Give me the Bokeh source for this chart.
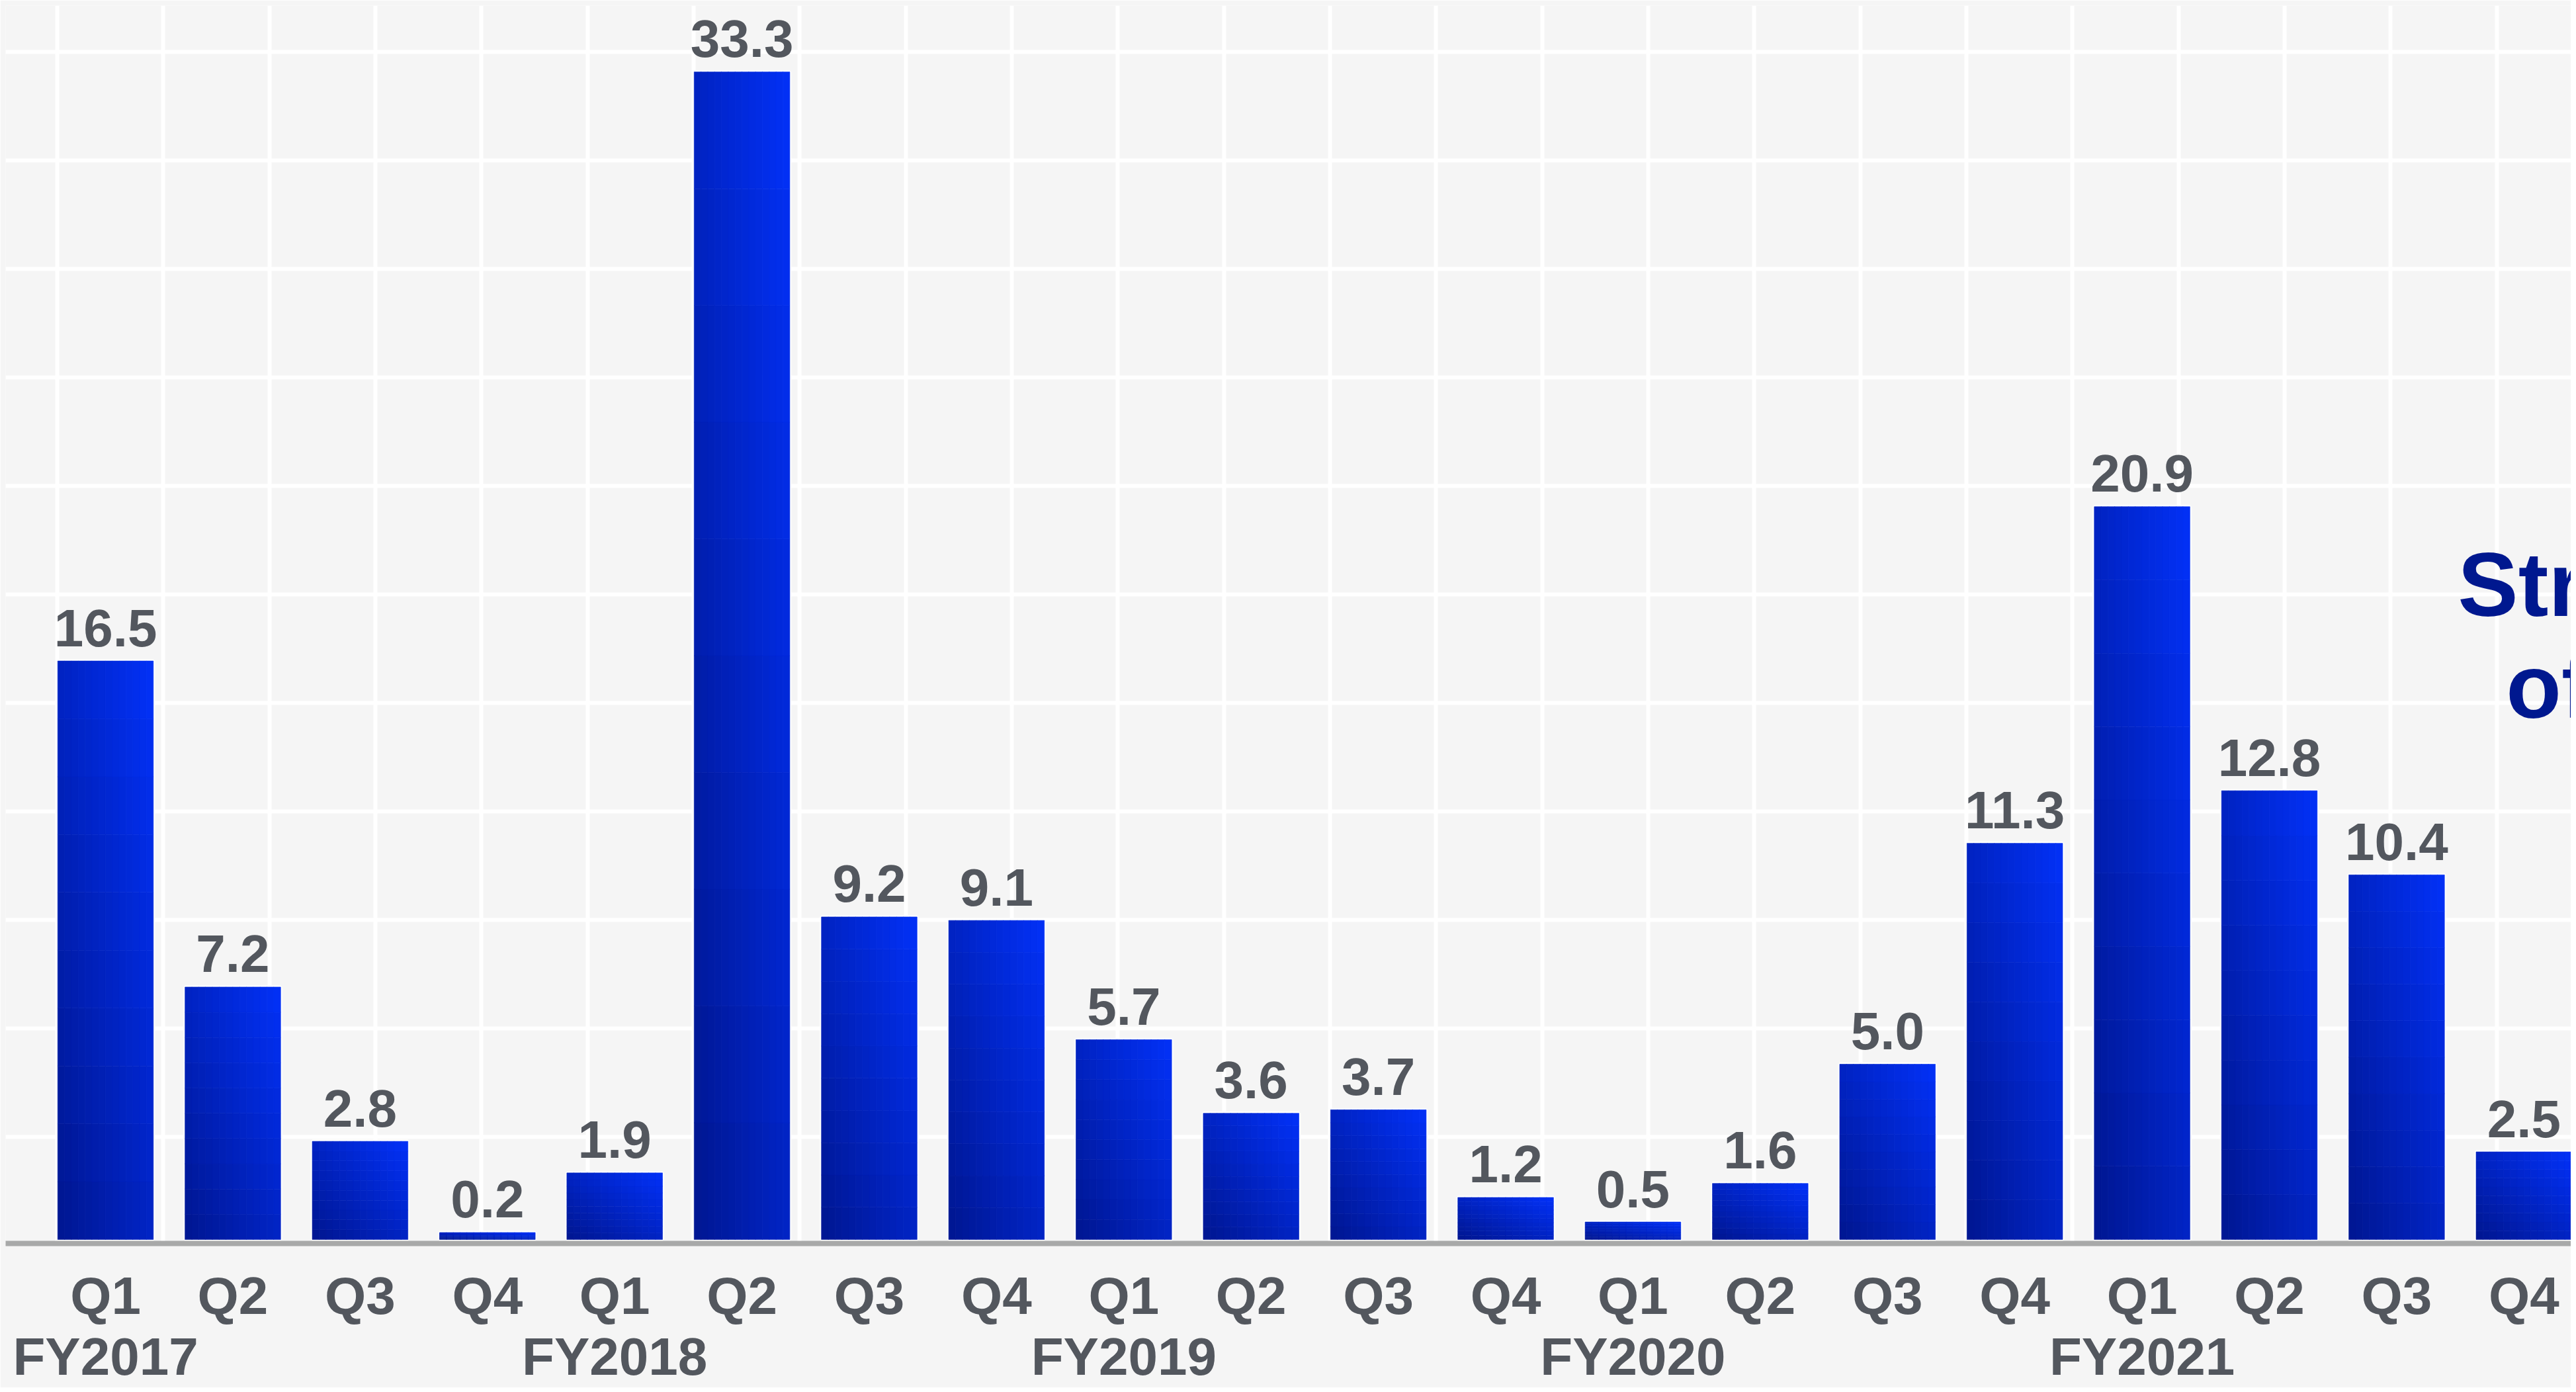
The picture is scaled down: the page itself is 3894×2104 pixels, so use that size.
from bokeh.plotting import figure
from bokeh.models import (ColumnDataSource, Range1d, FixedTicker, LinearAxis, Label)
from bokeh.core.properties import value
from bokeh.embed import file_html
from bokeh.resources import INLINE

# ---- data ----
years = ["FY2017", "FY2018", "FY2019", "FY2020", "FY2021"]
quarters = ["Q1", "Q2", "Q3", "Q4"]
values = [16.5, 7.2, 2.8, 0.2,
          1.9, 33.3, 9.2, 9.1,
          5.7, 3.6, 3.7, 1.2,
          0.5, 1.6, 5.0, 11.3,
          20.9, 12.8, 10.4, 2.5]
q_labels = quarters * len(years)
callout_lines = ["Str", "of"]

xs = list(range(len(values)))
src = ColumnDataSource(dict(x=xs, v=values, lab=["%.1f" % v for v in values]))

FONT = "Liberation Sans"
GREY_TXT = "#53575e"
BG = "#f5f5f5"

p = figure(frame_width=3878, frame_height=1871,
           x_range=Range1d(-0.785, 19.37), y_range=Range1d(-0.113, 35.19),
           output_backend="svg", toolbar_location=None, min_border=0,
           min_border_left=8, min_border_top=8,
           y_axis_location=None,
           background_fill_color=BG, border_fill_color=BG,
           outline_line_color=None)

# background tile grid (white lines)
p.xgrid.ticker = FixedTicker(ticks=[-0.379 + 0.8333 * k for k in range(26)])
p.ygrid.ticker = FixedTicker(ticks=[33.87 - 3.094 * k for k in range(11)])
p.xgrid.grid_line_color = "white"
p.ygrid.grid_line_color = "white"
p.xgrid.grid_line_width = 6
p.ygrid.grid_line_width = 6

BW = 0.75
# white glow outline
p.vbar(x="x", top="v", bottom=0, width=BW, source=src, fill_color=None,
       line_color="white", line_width=5)

# diagonal gradient fill (bottom-left dark -> top-right bright), cells derived from values
N, K = 14, 10
c0 = (0x00, 0x16, 0x8f)
c1 = (0x02, 0x31, 0xf8)
sw = BW / N
cx, cb, ct, cc = [], [], [], []
for i, v in zip(xs, values):
    for j in range(N):
        tx = (j + 0.5) / N
        for k in range(K):
            ty = (k + 0.5) / K
            t = 0.5 * (tx + ty)
            cx.append(i - BW / 2 + (j + 0.5) * sw)
            cb.append(v * k / K)
            ct.append(v * (k + 1) / K)
            cc.append("#%02x%02x%02x" % tuple(int(round(a + (b - a) * t)) for a, b in zip(c0, c1)))
cells = ColumnDataSource(dict(x=cx, b=cb, t=ct, c=cc))
p.vbar(x="x", bottom="b", top="t", width=sw * 1.03, source=cells,
       fill_color="c", line_color="c", line_width=0.6)

# value labels
p.text(x="x", y="v", text="lab", source=src, text_align="center",
       text_baseline="middle", y_offset=-50,
       text_font=value(FONT), text_font_style="bold",
       text_font_size="80px", text_color=GREY_TXT)

# quarter axis
ax = p.xaxis[0]
ax.ticker = FixedTicker(ticks=xs)
ax.major_label_overrides = {i: q for i, q in enumerate(q_labels)}
ax.axis_line_color = "#a8a9a9"
ax.axis_line_width = 8
ax.major_tick_line_color = None
ax.minor_tick_line_color = None
ax.major_tick_out = 0
ax.major_tick_in = 0
ax.major_label_standoff = 34
ax.major_label_text_font = FONT
ax.major_label_text_font_style = "bold"
ax.major_label_text_font_size = "80px"
ax.major_label_text_color = GREY_TXT

# fiscal year axis
fy_ticks = [4 * i for i in range(len(years))]
ax2 = LinearAxis(ticker=FixedTicker(ticks=fy_ticks),
                 major_label_overrides={t: y for t, y in zip(fy_ticks, years)})
ax2.axis_line_color = None
ax2.major_tick_line_color = None
ax2.minor_tick_line_color = None
ax2.major_tick_out = 0
ax2.major_tick_in = 0
ax2.major_label_standoff = 0
ax2.major_label_text_font = FONT
ax2.major_label_text_font_style = "bold"
ax2.major_label_text_font_size = "80px"
ax2.major_label_text_color = GREY_TXT
p.add_layout(ax2, "below")

# partially visible callout on the right
for txt, xx, yy in zip(callout_lines, [18.48, 18.86], [18.68, 15.77]):
    p.add_layout(Label(x=xx, y=yy, text=txt, text_font=FONT,
                       text_font_style="bold", text_font_size="137px",
                       text_color="#00188f", text_baseline="alphabetic",
                       text_align="left"))

open("out.html", "w").write(file_html(p, INLINE))
